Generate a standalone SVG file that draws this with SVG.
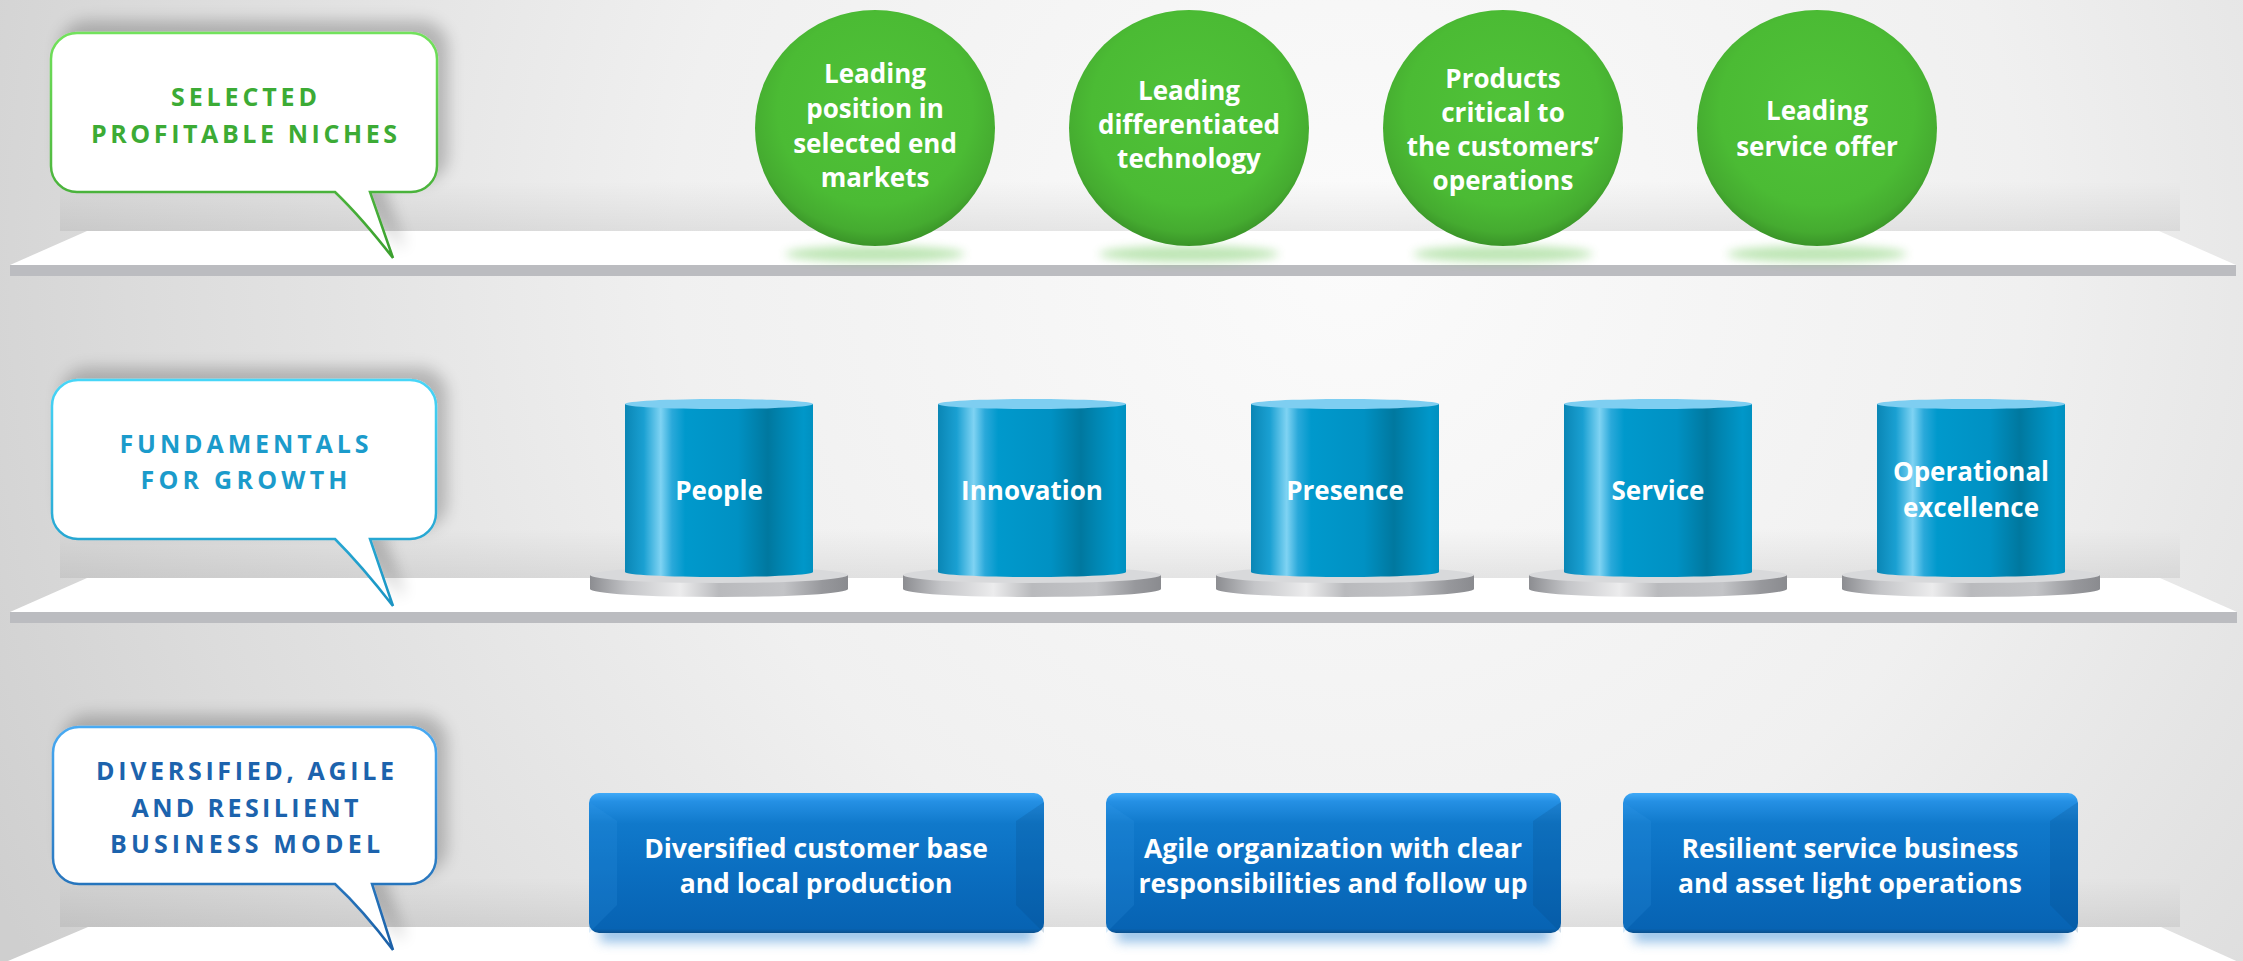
<svg xmlns="http://www.w3.org/2000/svg" width="2243" height="961" viewBox="0 0 2243 961">
<style>
.t{font-family:'Open Sans','Liberation Sans',sans-serif;font-weight:700;text-anchor:middle}
.w{fill:#ffffff}
.cap{font-size:25px}
.cg{fill:#3cab35}
.cc{fill:#1b9bcb}
.cb{fill:#1c63ad}
.lbl{font-size:26px}
.blbl{font-size:26.5px}
.shelfTop{fill:#ffffff}
.shelfFront{fill:#bbbcc0}
.wallShade{fill:url(#wallShade)}
.callout{fill:#ffffff;stroke-width:2.5;filter:url(#cshadow)}
.circle{fill:url(#greenG)}
.cglow{fill:#5cc045;opacity:0.4;filter:url(#blur5)}
.cylBody{fill:url(#cylG)}
.cylTop{fill:#7ecef1}
.diskSide{fill:url(#diskG)}
.diskTop{fill:#d8d9db}
.box{fill:url(#boxG)}
.bglow{fill:#4f97d8;opacity:0.6;filter:url(#blur7)}
</style>
<defs>
<radialGradient id="bg" cx="1350" cy="250" r="1500" gradientUnits="userSpaceOnUse">
<stop offset="0" stop-color="#fbfbfb"/>
<stop offset="0.45" stop-color="#f0f0f0"/>
<stop offset="0.8" stop-color="#dcdcdc"/>
<stop offset="1" stop-color="#cfcfcf"/>
</radialGradient>
<linearGradient id="wallShade" x1="0" y1="0" x2="0" y2="1">
<stop offset="0" stop-color="#000" stop-opacity="0"/>
<stop offset="1" stop-color="#000" stop-opacity="0.07"/>
</linearGradient>
<linearGradient id="strokeG" x1="0" y1="0" x2="0" y2="1">
<stop offset="0" stop-color="#72e25c"/>
<stop offset="1" stop-color="#3a9f2e"/>
</linearGradient>
<linearGradient id="strokeC" x1="0" y1="0" x2="0" y2="1">
<stop offset="0" stop-color="#47d6f8"/>
<stop offset="1" stop-color="#1a93c2"/>
</linearGradient>
<linearGradient id="strokeB" x1="0" y1="0" x2="0" y2="1">
<stop offset="0" stop-color="#48aaf3"/>
<stop offset="1" stop-color="#1a5fa6"/>
</linearGradient>
<filter id="cshadow" x="-20%" y="-30%" width="140%" height="160%">
<feGaussianBlur in="SourceAlpha" stdDeviation="8"/>
<feOffset dx="10" dy="-11" result="b"/>
<feComponentTransfer><feFuncA type="linear" slope="0.22"/></feComponentTransfer>
<feMerge><feMergeNode/><feMergeNode in="SourceGraphic"/></feMerge>
</filter>
<filter id="blur5" x="-30%" y="-200%" width="160%" height="500%"><feGaussianBlur stdDeviation="5"/></filter>
<filter id="blur7" x="-20%" y="-200%" width="140%" height="500%"><feGaussianBlur stdDeviation="6"/></filter>
<radialGradient id="greenG" cx="0.5" cy="0.42" r="0.58">
<stop offset="0" stop-color="#50c238"/>
<stop offset="0.7" stop-color="#4bbb34"/>
<stop offset="0.9" stop-color="#45ab30"/>
<stop offset="1" stop-color="#3a9428"/>
</radialGradient>
<linearGradient id="cylG" x1="0" y1="0" x2="1" y2="0">
<stop offset="0" stop-color="#0a86b5"/>
<stop offset="0.1" stop-color="#1aa0d2"/>
<stop offset="0.19" stop-color="#7fd3f3"/>
<stop offset="0.25" stop-color="#2aa9da"/>
<stop offset="0.32" stop-color="#0099cc"/>
<stop offset="0.6" stop-color="#0091c3"/>
<stop offset="0.76" stop-color="#00789f"/>
<stop offset="0.84" stop-color="#0086b2"/>
<stop offset="0.95" stop-color="#0097c9"/>
<stop offset="1" stop-color="#0090c0"/>
</linearGradient>
<linearGradient id="diskG" x1="0" y1="0" x2="1" y2="0">
<stop offset="0" stop-color="#8c8d91"/>
<stop offset="0.15" stop-color="#c4c5c8"/>
<stop offset="0.35" stop-color="#ececed"/>
<stop offset="0.5" stop-color="#b9babd"/>
<stop offset="0.75" stop-color="#c3c4c7"/>
<stop offset="0.9" stop-color="#97989c"/>
<stop offset="1" stop-color="#8a8b8f"/>
</linearGradient>
<linearGradient id="boxG" x1="0" y1="0" x2="0" y2="1">
<stop offset="0" stop-color="#40aaf8"/>
<stop offset="0.06" stop-color="#2590e4"/>
<stop offset="0.22" stop-color="#1079cb"/>
<stop offset="0.6" stop-color="#0a6dbf"/>
<stop offset="0.97" stop-color="#0763b3"/>
<stop offset="1" stop-color="#0a4f8c"/>
</linearGradient>
</defs>

<rect id="background" width="2243" height="961" fill="url(#bg)"/>

<g id="shelves">
<rect class="wallShade" x="60" y="181" width="2120" height="50"/>
<polygon class="shelfTop" points="87,231 2159,231 2236,265 10,265"/>
<rect class="shelfFront" x="10" y="265" width="2226" height="11"/>
<rect class="wallShade" x="60" y="528" width="2120" height="50"/>
<polygon class="shelfTop" points="87,578 2160,578 2237,612 10,612"/>
<rect class="shelfFront" x="10" y="612" width="2227" height="11"/>
<rect class="wallShade" x="60" y="877" width="2120" height="50"/>
<polygon class="shelfTop" points="88,927 2161,927 2243,964 2243,961 8,961"/>
</g>

<g id="connectors"/>

<g id="callout-niches">
<path class="callout" stroke="url(#strokeG)" d="M77,33 H411 A26,26 0 0 1 437,59 V166 A26,26 0 0 1 411,192 H370 L393,258 Q362,218 335,192 H77 A26,26 0 0 1 51,166 V59 A26,26 0 0 1 77,33 Z"/>
<text class="t cap cg" x="244" y="106" textLength="146" lengthAdjust="spacing">SELECTED</text>
<text class="t cap cg" x="244" y="143" textLength="306" lengthAdjust="spacing">PROFITABLE NICHES</text>
</g>

<g id="callout-growth">
<path class="callout" stroke="url(#strokeC)" d="M78,380 H410 A26,26 0 0 1 436,406 V513 A26,26 0 0 1 410,539 H370 L393,606 Q362,566 335,539 H78 A26,26 0 0 1 52,513 V406 A26,26 0 0 1 78,380 Z"/>
<text class="t cap cc" x="244" y="453" textLength="249" lengthAdjust="spacing">FUNDAMENTALS</text>
<text class="t cap cc" x="244" y="489" textLength="207" lengthAdjust="spacing">FOR GROWTH</text>
</g>

<g id="callout-model">
<path class="callout" stroke="url(#strokeB)" d="M79,727 H410 A26,26 0 0 1 436,753 V858 A26,26 0 0 1 410,884 H372 L393,950 Q363,910 335,884 H79 A26,26 0 0 1 53,858 V753 A26,26 0 0 1 79,727 Z"/>
<text class="t cap cb" x="245" y="780" textLength="298" lengthAdjust="spacing">DIVERSIFIED, AGILE</text>
<text class="t cap cb" x="245" y="817" textLength="227" lengthAdjust="spacing">AND RESILIENT</text>
<text class="t cap cb" x="245" y="853" textLength="270" lengthAdjust="spacing">BUSINESS MODEL</text>
</g>

<g id="niche-1">
<ellipse class="cglow" cx="875" cy="254" rx="90" ry="8"/>
<ellipse class="circle" cx="875" cy="128" rx="120" ry="118"/>
<text class="t lbl w" x="875" y="83">Leading</text>
<text class="t lbl w" x="875" y="118">position in</text>
<text class="t lbl w" x="875" y="153">selected end</text>
<text class="t lbl w" x="875" y="187">markets</text>
</g>
<g id="niche-2">
<ellipse class="cglow" cx="1189" cy="254" rx="90" ry="8"/>
<ellipse class="circle" cx="1189" cy="128" rx="120" ry="118"/>
<text class="t lbl w" x="1189" y="100">Leading</text>
<text class="t lbl w" x="1189" y="134">differentiated</text>
<text class="t lbl w" x="1189" y="168">technology</text>
</g>
<g id="niche-3">
<ellipse class="cglow" cx="1503" cy="254" rx="90" ry="8"/>
<ellipse class="circle" cx="1503" cy="128" rx="120" ry="118"/>
<text class="t lbl w" x="1503" y="88">Products</text>
<text class="t lbl w" x="1503" y="122">critical to</text>
<text class="t lbl w" x="1503" y="156">the customers’</text>
<text class="t lbl w" x="1503" y="190">operations</text>
</g>
<g id="niche-4">
<ellipse class="cglow" cx="1817" cy="254" rx="90" ry="8"/>
<ellipse class="circle" cx="1817" cy="128" rx="120" ry="118"/>
<text class="t lbl w" x="1817" y="120">Leading</text>
<text class="t lbl w" x="1817" y="156">service offer</text>
</g>

<g id="pillar-people">
<path class="diskSide" d="M590,575 V589 A129,8 0 0 0 848,589 V575 Z"/>
<ellipse class="diskTop" cx="719" cy="575" rx="129" ry="8"/>
<path class="cylBody" d="M625,404 V572 A94,5 0 0 0 813,572 V404 Z"/>
<ellipse class="cylTop" cx="719" cy="404" rx="94" ry="5"/>
<text class="t lbl w" x="719" y="500">People</text>
</g>
<g id="pillar-innovation">
<path class="diskSide" d="M903,575 V589 A129,8 0 0 0 1161,589 V575 Z"/>
<ellipse class="diskTop" cx="1032" cy="575" rx="129" ry="8"/>
<path class="cylBody" d="M938,404 V572 A94,5 0 0 0 1126,572 V404 Z"/>
<ellipse class="cylTop" cx="1032" cy="404" rx="94" ry="5"/>
<text class="t lbl w" x="1032" y="500">Innovation</text>
</g>
<g id="pillar-presence">
<path class="diskSide" d="M1216,575 V589 A129,8 0 0 0 1474,589 V575 Z"/>
<ellipse class="diskTop" cx="1345" cy="575" rx="129" ry="8"/>
<path class="cylBody" d="M1251,404 V572 A94,5 0 0 0 1439,572 V404 Z"/>
<ellipse class="cylTop" cx="1345" cy="404" rx="94" ry="5"/>
<text class="t lbl w" x="1345" y="500">Presence</text>
</g>
<g id="pillar-service">
<path class="diskSide" d="M1529,575 V589 A129,8 0 0 0 1787,589 V575 Z"/>
<ellipse class="diskTop" cx="1658" cy="575" rx="129" ry="8"/>
<path class="cylBody" d="M1564,404 V572 A94,5 0 0 0 1752,572 V404 Z"/>
<ellipse class="cylTop" cx="1658" cy="404" rx="94" ry="5"/>
<text class="t lbl w" x="1658" y="500">Service</text>
</g>
<g id="pillar-operational">
<path class="diskSide" d="M1842,575 V589 A129,8 0 0 0 2100,589 V575 Z"/>
<ellipse class="diskTop" cx="1971" cy="575" rx="129" ry="8"/>
<path class="cylBody" d="M1877,404 V572 A94,5 0 0 0 2065,572 V404 Z"/>
<ellipse class="cylTop" cx="1971" cy="404" rx="94" ry="5"/>
<text class="t lbl w" x="1971" y="481">Operational</text>
<text class="t lbl w" x="1971" y="517">excellence</text>
</g>

<g id="model-1">
<rect class="bglow" x="600" y="926" width="433" height="16"/>
<rect class="box" x="589" y="793" width="455" height="140" rx="10"/>
<polygon points="589,802 617,821 617,905 589,933" fill="#3a9ae8" opacity="0.18"/>
<polygon points="1044,802 1016,821 1016,905 1044,933" fill="#04417a" opacity="0.18"/>
<text class="t blbl w" x="816" y="858">Diversified customer base</text>
<text class="t blbl w" x="816" y="893">and local production</text>
</g>
<g id="model-2">
<rect class="bglow" x="1117" y="926" width="433" height="16"/>
<rect class="box" x="1106" y="793" width="455" height="140" rx="10"/>
<polygon points="1106,802 1134,821 1134,905 1106,933" fill="#3a9ae8" opacity="0.18"/>
<polygon points="1561,802 1533,821 1533,905 1561,933" fill="#04417a" opacity="0.18"/>
<text class="t blbl w" x="1333" y="858">Agile organization with clear</text>
<text class="t blbl w" x="1333" y="893">responsibilities and follow up</text>
</g>
<g id="model-3">
<rect class="bglow" x="1634" y="926" width="433" height="16"/>
<rect class="box" x="1623" y="793" width="455" height="140" rx="10"/>
<polygon points="1623,802 1651,821 1651,905 1623,933" fill="#3a9ae8" opacity="0.18"/>
<polygon points="2078,802 2050,821 2050,905 2078,933" fill="#04417a" opacity="0.18"/>
<text class="t blbl w" x="1850" y="858">Resilient service business</text>
<text class="t blbl w" x="1850" y="893">and asset light operations</text>
</g>
</svg>
